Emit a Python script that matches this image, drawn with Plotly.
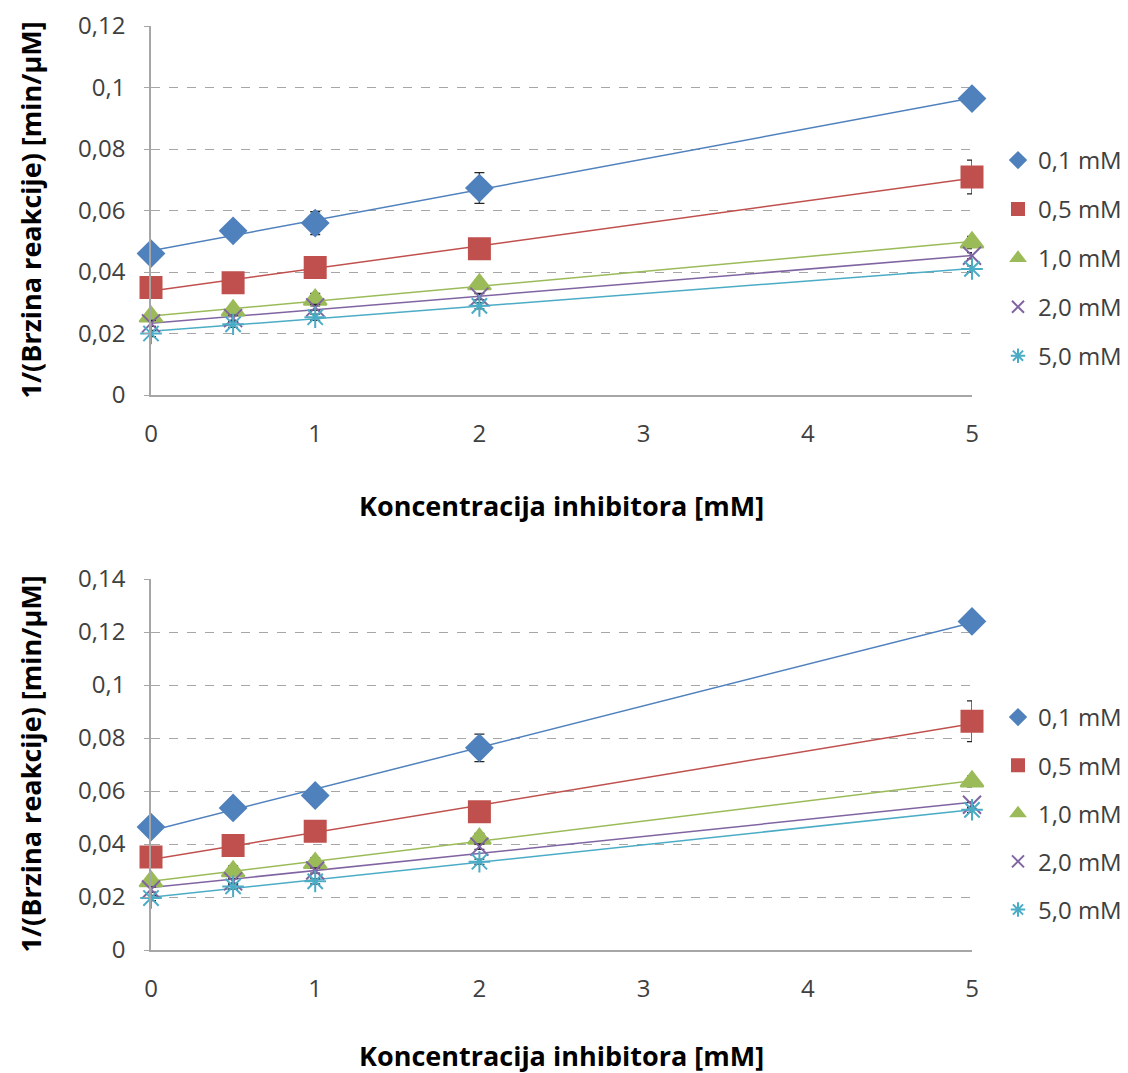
import numpy as np
import plotly.graph_objects as go

# ---------------- data ----------------
x_conc = [0, 0.5, 1, 2, 5]
series_names = ["0,1 mM", "0,5 mM", "1,0 mM", "2,0 mM", "5,0 mM"]

# top chart
top_01 = [0.0460, 0.0534, 0.0559, 0.0673, 0.0964]
top_05 = [0.0350, 0.0365, 0.0415, 0.0476, 0.0709]
top_10 = [0.0255, 0.0275, 0.0310, 0.0360, 0.0496]
top_20 = [0.0233, 0.0250, 0.0285, 0.0320, 0.0453]
top_50 = [0.0200, 0.0230, 0.0253, 0.0290, 0.0410]

top_01_err = [0.0005, 0.0010, 0.0037, 0.0050, 0.0020]
top_05_err = [0.0010, 0.0010, 0.0010, 0.0010, 0.0055]
top_10_err = [0.0010, 0.0010, 0.0020, 0.0010, 0.0020]
top_20_err = [0.0010, 0.0010, 0.0010, 0.0010, 0.0010]
top_50_err = [0.0010, 0.0010, 0.0010, 0.0010, 0.0010]

# bottom chart
bot_01 = [0.0464, 0.0536, 0.0583, 0.0763, 0.1240]
bot_05 = [0.0351, 0.0394, 0.0448, 0.0522, 0.0863]
bot_10 = [0.0259, 0.0297, 0.0328, 0.0420, 0.0636]
bot_20 = [0.0228, 0.0259, 0.0300, 0.0390, 0.0548]
bot_50 = [0.0196, 0.0240, 0.0259, 0.0333, 0.0529]

bot_01_err = [0.0005, 0.0010, 0.0030, 0.0052, 0.0020]
bot_05_err = [0.0010, 0.0010, 0.0010, 0.0010, 0.0077]
bot_10_err = [0.0010, 0.0020, 0.0020, 0.0020, 0.0020]
bot_20_err = [0.0010, 0.0010, 0.0010, 0.0010, 0.0010]
bot_50_err = [0.0010, 0.0010, 0.0010, 0.0010, 0.0010]

x_title = "Koncentracija inhibitora [mM]"
y_title = "1/(Brzina reakcije) [min/µM]"

# ---------------- styles ----------------
colors = ["#4F81BD", "#C0504D", "#9BBB59", "#8064A2", "#4BACC6"]
symbols = ["diamond", "square", "triangle-up", "x-thin-open", "asterisk-open"]
sizes = [20, 21, 20, 18, 18]
FONT = "Open Sans"
TXT = "#404040"

fig = go.Figure()

panels = [
    (dict(x="x", y="y", legend="legend"),
     [top_01, top_05, top_10, top_20, top_50],
     [top_01_err, top_05_err, top_10_err, top_20_err, top_50_err]),
    (dict(x="x2", y="y2", legend="legend2"),
     [bot_01, bot_05, bot_10, bot_20, bot_50],
     [bot_01_err, bot_05_err, bot_10_err, bot_20_err, bot_50_err]),
]

xa = np.array(x_conc)
for pi, (ax, ys, errs) in enumerate(panels):
    # trend lines
    for i, yv in enumerate(ys):
        k, b = np.polyfit(xa, np.array(yv), 1)
        xs = [xa.min(), xa.max()]
        fig.add_trace(go.Scatter(
            x=xs, y=[k * v + b for v in xs], mode="lines",
            line=dict(color=colors[i], width=1.5),
            showlegend=False, hoverinfo="skip",
            xaxis=ax["x"], yaxis=ax["y"]))
    # markers with error bars
    for i, yv in enumerate(ys):
        fig.add_trace(go.Scatter(
            x=x_conc, y=yv, mode="markers", name=series_names[i],
            legendgroup=f"g{pi}_{i}", legend=ax["legend"],
            marker=dict(symbol=symbols[i], size=sizes[i], color=colors[i],
                        line=dict(color=colors[i], width=2)),
            error_y=dict(type="data", array=errs[i], visible=True,
                         color="#262626", thickness=1.3, width=5),
            cliponaxis=False,
            xaxis=ax["x"], yaxis=ax["y"]))

# page has an 8px body margin; lay out in figure coordinates
OFF = 8
W, H = 1128 - OFF, 1073 - OFF
ml = 151 - OFF
mt = 26 - OFF
plot_right = 972 - OFF
plot_bottom = 950 - OFF
mr = W - plot_right
mb = H - plot_bottom
pw = W - ml - mr
ph = H - mt - mb
top_dom = [(plot_bottom - (395 - OFF)) / ph, 1.0]
bot_dom = [0.0, (plot_bottom - (579 - OFF)) / ph]

axis_common = dict(
    showline=True, linecolor="#A6A6A6", linewidth=1.5,
    tickfont=dict(family=FONT, size=24, color=TXT),
    zeroline=False, ticklabeloverflow="allow",
)
xcommon = dict(axis_common, range=[0, 5], tickvals=[0, 1, 2, 3, 4, 5],
               showgrid=False, ticks="", ticklabelstandoff=16)
ycommon = dict(axis_common, showgrid=True, gridcolor="#A6A6A6",
               griddash="dash", gridwidth=1, ticks="outside", ticklen=5,
               tickcolor="#A6A6A6", ticklabelstandoff=14, dtick=0.02, tick0=0)

fig.update_layout(
    width=W, height=H,
    margin=dict(l=ml, r=mr, t=mt, b=mb, autoexpand=False),
    paper_bgcolor="white", plot_bgcolor="white",
    separators=", ",
    font=dict(family=FONT, color=TXT),
    xaxis=dict(xcommon, domain=[0, 1], anchor="y"),
    yaxis=dict(ycommon, domain=top_dom, range=[0, 0.12], anchor="x"),
    xaxis2=dict(xcommon, domain=[0, 1], anchor="y2"),
    yaxis2=dict(ycommon, domain=bot_dom, range=[0, 0.14], anchor="x2"),
    legend=dict(x=(998 - OFF - ml) / pw, y=(plot_bottom - (138 - OFF)) / ph,
                xanchor="left", yanchor="top", itemsizing="constant",
                font=dict(family=FONT, size=24, color=TXT),
                tracegroupgap=14.7, itemwidth=30, bgcolor="rgba(0,0,0,0)"),
    legend2=dict(x=(998 - OFF - ml) / pw, y=(plot_bottom - (695 - OFF)) / ph,
                 xanchor="left", yanchor="top", itemsizing="constant",
                 font=dict(family=FONT, size=24, color=TXT),
                 tracegroupgap=13.9, itemwidth=30, bgcolor="rgba(0,0,0,0)"),
    showlegend=True,
)

# axis titles as annotations
for xref, yref, ypos_px in [("x domain", "y domain", 110), ("x2 domain", "y2 domain", 105)]:
    fig.add_annotation(text=f"<b>{x_title}</b>", xref=xref, yref=yref,
                       x=0.5, y=-ypos_px / 369, showarrow=False,
                       xanchor="center", yanchor="middle", borderpad=0,
                       font=dict(family=FONT, size=27, color="#000000"))
    fig.add_annotation(text=f"<b>{y_title}</b>", xref=xref, yref=yref,
                       x=-(151 - 30) / pw, y=0.5, textangle=-90, showarrow=False,
                       xanchor="center", yanchor="middle", borderpad=0,
                       font=dict(family=FONT, size=27, color="#000000"))

fig.write_html("out.html")
